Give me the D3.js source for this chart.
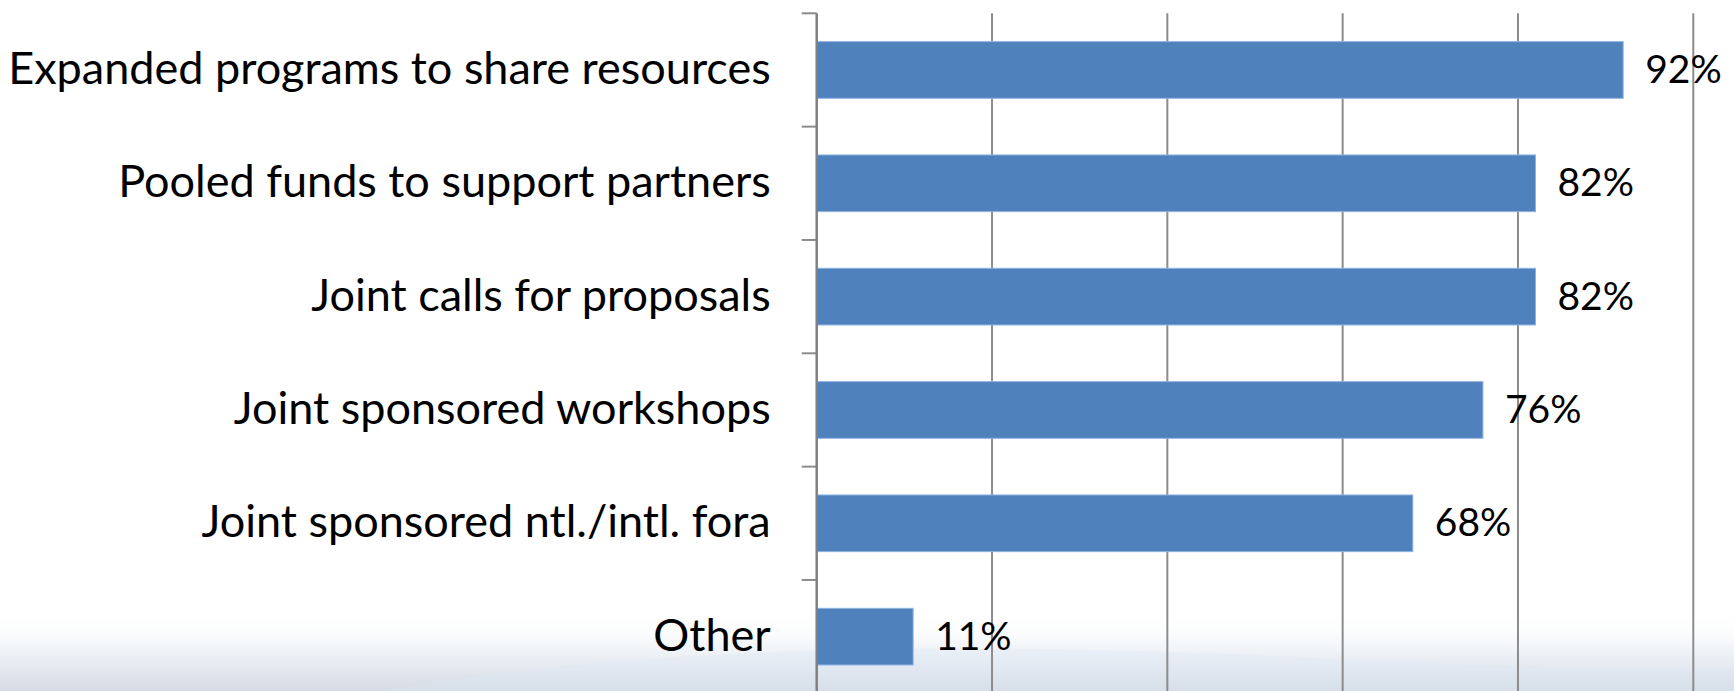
<!DOCTYPE html>
<html>
<head>
<meta charset="utf-8">
<script src="https://cdn.jsdelivr.net/npm/d3@7"></script>
<style>
  html, body { margin: 0; padding: 0; background: #fff; }
  svg { display: block; }
</style>
</head>
<body>
<div id="chart"></div>
<script>
// categories, top to bottom
const categories = [
  'Expanded programs to share resources',
  'Pooled funds to support partners',
  'Joint calls for proposals',
  'Joint sponsored workshops',
  'Joint sponsored ntl./intl. fora',
  'Other'
];
// share of respondents, percent
const values = [92, 82, 82, 76, 68, 11];
const xTicks = [0, 20, 40, 60, 80, 100];

const width = 1734;
const height = 691;
const margin = { top: 13.3, left: 816.7, right: 40.7 };
const plotBottom = 693.3;   // plot runs just past the bottom edge

const svg = d3.select('#chart').append('svg')
  .attr('width', width).attr('height', height);

/// soft slide background at the bottom
const defs = svg.append('defs');
const grad = defs.append('linearGradient')
  .attr('id', 'bg').attr('x1', 0).attr('y1', 0).attr('x2', 0).attr('y2', 1);
grad.append('stop').attr('offset', '0%').attr('stop-color', '#ffffff');
grad.append('stop').attr('offset', '25%').attr('stop-color', '#fbfcfd');
grad.append('stop').attr('offset', '60%').attr('stop-color', '#e9edf3');
grad.append('stop').attr('offset', '100%').attr('stop-color', '#d5dbe4');

svg.append('rect')
  .attr('x', 0).attr('y', 615).attr('width', width).attr('height', height - 615)
  .attr('fill', 'url(#bg)');

// faint light-blue swoosh
svg.append('path')
  .attr('d', 'M380,691 C620,650 900,640 1250,655 C1450,664 1600,672 1734,668 L1734,691 Z')
  .attr('fill', '#dbe8f5').attr('opacity', 0.3);

const x = d3.scaleLinear()
  .domain([0, 100])
  .range([margin.left, width - margin.right]);

const y = d3.scaleBand()
  .domain(categories)
  .range([margin.top, plotBottom])
  .paddingInner(0.5)
  .paddingOuter(0.25);

/// vertical gridlines
svg.append('g').selectAll('line')
  .data(xTicks.slice(1))
  .enter().append('line')
  .attr('x1', d => x(d)).attr('x2', d => x(d))
  .attr('y1', margin.top).attr('y2', plotBottom)
  .attr('stroke', '#8c8c8c').attr('stroke-width', 2);

/// bars
svg.append('g').selectAll('rect')
  .data(values)
  .enter().append('rect')
  .attr('x', x(0))
  .attr('y', (d, i) => y(categories[i]))
  .attr('width', d => x(d) - x(0))
  .attr('height', y.bandwidth())
  .attr('fill', '#4f81bd')
  .attr('stroke', '#8db3e2').attr('stroke-width', 1);

/// category axis, ticks sit between the categories
const edges = categories.map((c, i) => margin.top + i * y.step());
svg.append('g').selectAll('line')
  .data(edges)
  .enter().append('line')
  .attr('x1', margin.left - 15).attr('x2', margin.left)
  .attr('y1', d => d).attr('y2', d => d)
  .attr('stroke', '#8c8c8c').attr('stroke-width', 2);

svg.append('line')
  .attr('x1', margin.left).attr('x2', margin.left)
  .attr('y1', margin.top).attr('y2', plotBottom)
  .attr('stroke', '#808080').attr('stroke-width', 2.5);

/// category labels
svg.append('g').selectAll('text')
  .data(categories)
  .enter().append('text')
  .attr('x', margin.left - 46)
  .attr('y', d => y(d) + y.bandwidth() / 2 + 14)
  .attr('text-anchor', 'end')
  .style('font-family', 'Lato, "Open Sans", sans-serif')
  .style('font-size', '45px')
  .style('fill', '#000')
  .text(d => d);

/// value labels
svg.append('g').selectAll('text')
  .data(values)
  .enter().append('text')
  .attr('x', d => x(d) + 22)
  .attr('y', (d, i) => y(categories[i]) + y.bandwidth() / 2 + 13)
  .style('font-family', 'Lato, "Open Sans", sans-serif')
  .style('font-size', '39px')
  .style('fill', '#000')
  .text(d => d + '%');
</script>
</body>
</html>
